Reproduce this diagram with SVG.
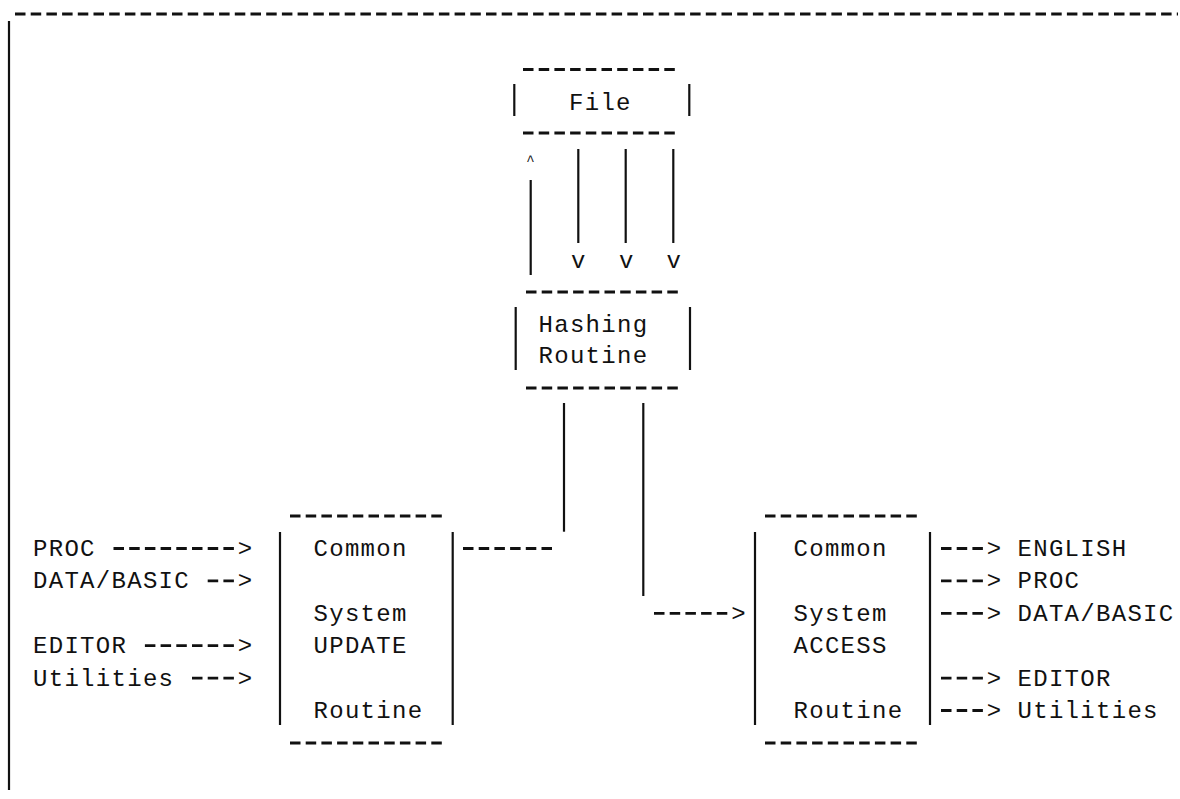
<svg xmlns="http://www.w3.org/2000/svg" width="1180" height="799" viewBox="0 0 1180 799">
  <style>
    .t { font-family: "Liberation Mono", "DejaVu Sans Mono", monospace; font-size: 24px; letter-spacing: 1.3px; fill: #111; }
    .h { font-family: "Liberation Mono", "DejaVu Sans Mono", monospace; font-size: 24px; fill: #111; text-anchor: middle; }
    .c { font-family: "Liberation Mono", "DejaVu Sans Mono", monospace; font-size: 14px; fill: #111; text-anchor: middle; }
    .d { stroke: #111; stroke-width: 2.8; stroke-dasharray: 10.5 5.2; fill: none; }
    .s { stroke: #111; stroke-width: 2.2; fill: none; }
  </style>
  <rect width="1180" height="799" fill="#fff"/>

  <!-- page frame: typed rule along the top, margin bar on the left -->
  <g id="frame">
    <line class="d" x1="15" y1="14" x2="1178" y2="14"/>
    <line class="s" x1="9" y1="21" x2="9" y2="790"/>
  </g>

  <!-- File -->
  <g id="file">
    <line class="d" x1="523" y1="69.5" x2="679" y2="69.5"/>
    <line class="s" x1="514.3" y1="84" x2="514.3" y2="116"/>
    <line class="s" x1="689.3" y1="84" x2="689.3" y2="116"/>
    <text class="t" x="569" y="110">File</text>
    <line class="d" x1="523" y1="133" x2="679" y2="133"/>
  </g>

  <!-- Hashing Routine -->
  <g id="hashing">
    <line class="d" x1="526" y1="292" x2="681" y2="292"/>
    <line class="s" x1="515.7" y1="307" x2="515.7" y2="370"/>
    <line class="s" x1="690" y1="307" x2="690" y2="370"/>
    <text class="t" x="538.5" y="331.7">Hashing</text>
    <text class="t" x="538.5" y="363.3">Routine</text>
    <line class="d" x1="526" y1="388" x2="681" y2="388"/>
  </g>

  <!-- Common System UPDATE Routine -->
  <g id="update">
    <line class="d" x1="290" y1="516" x2="445" y2="516"/>
    <line class="s" x1="280" y1="532" x2="280" y2="725"/>
    <line class="s" x1="452.7" y1="532" x2="452.7" y2="725"/>
    <text class="t" x="313.5" y="556">Common</text>
    <text class="t" x="313.5" y="620.8">System</text>
    <text class="t" x="313.5" y="653.2">UPDATE</text>
    <text class="t" x="313.5" y="718">Routine</text>
    <line class="d" x1="290" y1="743" x2="445" y2="743"/>
  </g>

  <!-- Common System ACCESS Routine -->
  <g id="access">
    <line class="d" x1="765" y1="516" x2="920" y2="516"/>
    <line class="s" x1="755" y1="532" x2="755" y2="725"/>
    <line class="s" x1="930" y1="532" x2="930" y2="725"/>
    <text class="t" x="793.5" y="556">Common</text>
    <text class="t" x="793.5" y="620.8">System</text>
    <text class="t" x="793.5" y="653.2">ACCESS</text>
    <text class="t" x="793.5" y="718">Routine</text>
    <line class="d" x1="765" y1="743" x2="920" y2="743"/>
  </g>

  <!-- callers of the update routine -->
  <g id="in-proc"><text class="t" x="33" y="556">PROC</text></g>
  <g id="in-databasic"><text class="t" x="33" y="588.4">DATA/BASIC</text></g>
  <g id="in-editor"><text class="t" x="33" y="653.2">EDITOR</text></g>
  <g id="in-utilities"><text class="t" x="33" y="685.6">Utilities</text></g>

  <!-- users of the access routine -->
  <g id="out-english"><text class="t" x="1017.5" y="556">ENGLISH</text></g>
  <g id="out-proc"><text class="t" x="1017.5" y="588.4">PROC</text></g>
  <g id="out-databasic"><text class="t" x="1017.5" y="620.8">DATA/BASIC</text></g>
  <g id="out-editor"><text class="t" x="1017.5" y="685.6">EDITOR</text></g>
  <g id="out-utilities"><text class="t" x="1017.5" y="718">Utilities</text></g>

  <g id="connectors">
    <!-- hashing writes up to the file -->
    <text class="c" x="530.5" y="165">^</text>
    <line class="s" x1="530.7" y1="180" x2="530.7" y2="275"/>
    <!-- three reads down from the file -->
    <line class="s" x1="578.3" y1="149" x2="578.3" y2="243"/>
    <line class="s" x1="625.7" y1="149" x2="625.7" y2="243"/>
    <line class="s" x1="673.3" y1="149" x2="673.3" y2="243"/>
    <text class="h" x="578.3" y="268">v</text>
    <text class="h" x="626.2" y="268">v</text>
    <text class="h" x="673.8" y="268">v</text>

    <!-- hashing to update -->
    <line class="s" x1="564" y1="403" x2="564" y2="531.7"/>
    <line class="d" x1="463" y1="548.5" x2="554" y2="548.5"/>

    <!-- hashing to access -->
    <line class="s" x1="643.3" y1="403" x2="643.3" y2="596"/>
    <line class="d" x1="654" y1="613.3" x2="728" y2="613.3"/>
    <text class="h" x="738.5" y="620.8">&gt;</text>

    <!-- inputs into update -->
    <line class="d" x1="113.5" y1="548.5" x2="234" y2="548.5"/>
    <text class="h" x="245" y="556">&gt;</text>
    <line class="d" x1="207.7" y1="580.9" x2="234" y2="580.9"/>
    <text class="h" x="245" y="588.4">&gt;</text>
    <line class="d" x1="144.9" y1="645.7" x2="234" y2="645.7"/>
    <text class="h" x="245" y="653.2">&gt;</text>
    <line class="d" x1="192" y1="678.1" x2="234" y2="678.1"/>
    <text class="h" x="245" y="685.6">&gt;</text>

    <!-- outputs from access -->
    <line class="d" x1="941" y1="548.5" x2="984" y2="548.5"/>
    <text class="h" x="994" y="556">&gt;</text>
    <line class="d" x1="941" y1="580.9" x2="984" y2="580.9"/>
    <text class="h" x="994" y="588.4">&gt;</text>
    <line class="d" x1="941" y1="613.3" x2="984" y2="613.3"/>
    <text class="h" x="994" y="620.8">&gt;</text>
    <line class="d" x1="941" y1="678.1" x2="984" y2="678.1"/>
    <text class="h" x="994" y="685.6">&gt;</text>
    <line class="d" x1="941" y1="710.5" x2="984" y2="710.5"/>
    <text class="h" x="994" y="718">&gt;</text>
  </g>
</svg>
